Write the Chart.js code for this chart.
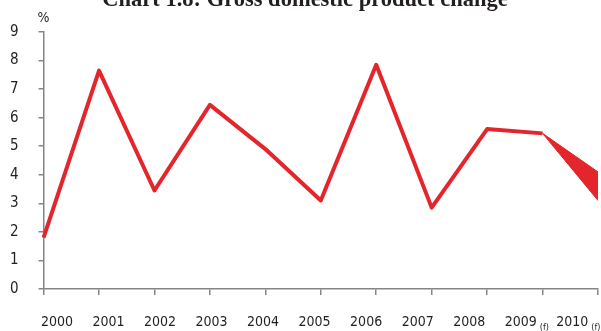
<!DOCTYPE html>
<html>
<head>
<meta charset="utf-8">
<script src="https://cdn.jsdelivr.net/npm/chart.js@4.4.1/dist/chart.umd.min.js"></script>
<style>
  html, body { margin: 0; padding: 0; background: #fff; }
  #wrap { width: 601px; height: 331px; position: relative; }
</style>
</head>
<body>
<div id="wrap"><canvas id="myChart" width="601" height="331"></canvas></div>
<script>
const years = ['2000', '2001', '2002', '2003', '2004', '2005', '2006', '2007', '2008', '2009', '2010'];
const gdp = [1.8, 7.65, 3.45, 6.45, 4.9, 3.1, 7.85, 2.85, 5.6, 5.45, null];
const forecastHigh = [null, null, null, null, null, null, null, null, null, 5.45, 4.1];
const forecastLow = [null, null, null, null, null, null, null, null, null, 5.45, 3.1];
const forecastMarks = ['', '', '', '', '', '', '', '', '', '(f)', '(f)'];

const red = '#e4252b';
const axisGrey = '#858585';
const labelFont = '"DejaVu Sans Condensed", "Liberation Sans", sans-serif';

// title, % sign and the small (f) marks
const extras = {
  id: 'extras',
  afterDraw(chart) {
    const ctx = chart.ctx;
    const yScale = chart.scales.y;
    const xl = chart.scales.xl;
    ctx.save();
    ctx.fillStyle = '#231f20';
    ctx.font = 'bold 22.5px "Liberation Serif", serif';
    ctx.textAlign = 'center';
    ctx.textBaseline = 'alphabetic';
    ctx.fillText('Chart 1.8: Gross domestic product change', 305, 6);

    ctx.font = '14px ' + labelFont;
    ctx.textBaseline = 'middle';
    ctx.fillText('%', yScale.right, yScale.top - 14);

    ctx.textAlign = 'left';
    ctx.textBaseline = 'alphabetic';
    ctx.font = '14px ' + labelFont;
    const w = ctx.measureText('2009').width;
    ctx.font = '9px ' + labelFont;
    forecastMarks.forEach(function(m, i) {
      if (!m) return;
      const px = xl.getPixelForValue(i) + w / 2 + 3;
      ctx.fillText(m, px, 330);
    });
    ctx.restore();
  }
};

const ctx = document.getElementById('myChart').getContext('2d');
new Chart(ctx, {
  type: 'line',
  data: {
    labels: years,
    datasets: [{
      label: 'GDP change',
      data: gdp,
      borderColor: red,
      borderWidth: 4,
      borderJoinStyle: 'round',
      pointRadius: 0,
      tension: 0,
      fill: false
    }, {
      label: 'forecast high',
      data: forecastHigh,
      borderColor: red,
      borderWidth: 1,
      pointRadius: 0,
      tension: 0,
      fill: false
    }, {
      label: 'forecast low',
      data: forecastLow,
      borderColor: red,
      backgroundColor: red,
      borderWidth: 1,
      pointRadius: 0,
      tension: 0,
      fill: '-1'
    }]
  },
  options: {
    responsive: false,
    animation: false,
    events: [],
    // y tick padding is counted twice by the layout, hence the negative left
    layout: { padding: { top: 32, right: 3, bottom: 2, left: -10 } },
    plugins: {
      legend: { display: false },
      tooltip: { enabled: false },
      title: { display: false }
    },
    scales: {
      x: {
        type: 'category',
        offset: false,
        weight: 0,
        border: { display: true, color: axisGrey, width: 1.5 },
        grid: { drawOnChartArea: false, drawTicks: true, tickLength: 6, color: axisGrey, lineWidth: 1.5 },
        ticks: { display: false }
      },
      xl: {
        type: 'linear',
        position: 'bottom',
        weight: 1,
        min: -0.26,
        max: 10.5,
        border: { display: false },
        grid: { display: false, drawTicks: true, tickLength: 20 },
        ticks: {
          stepSize: 1,
          includeBounds: false,
          autoSkip: false,
          maxRotation: 0,
          padding: 0,
          color: '#231f20',
          font: { family: labelFont, size: 14, lineHeight: 1 },
          callback: function(v) { return years[v]; }
        }
      },
      y: {
        min: 0,
        max: 9,
        border: { display: true, color: axisGrey, width: 1.5 },
        grid: { drawOnChartArea: false, drawTicks: true, tickLength: 5, color: axisGrey, lineWidth: 1.5 },
        ticks: {
          stepSize: 1,
          padding: 20,
          color: '#231f20',
          font: { family: labelFont, size: 15 }
        }
      }
    }
  },
  plugins: [extras]
});
</script>
</body>
</html>
